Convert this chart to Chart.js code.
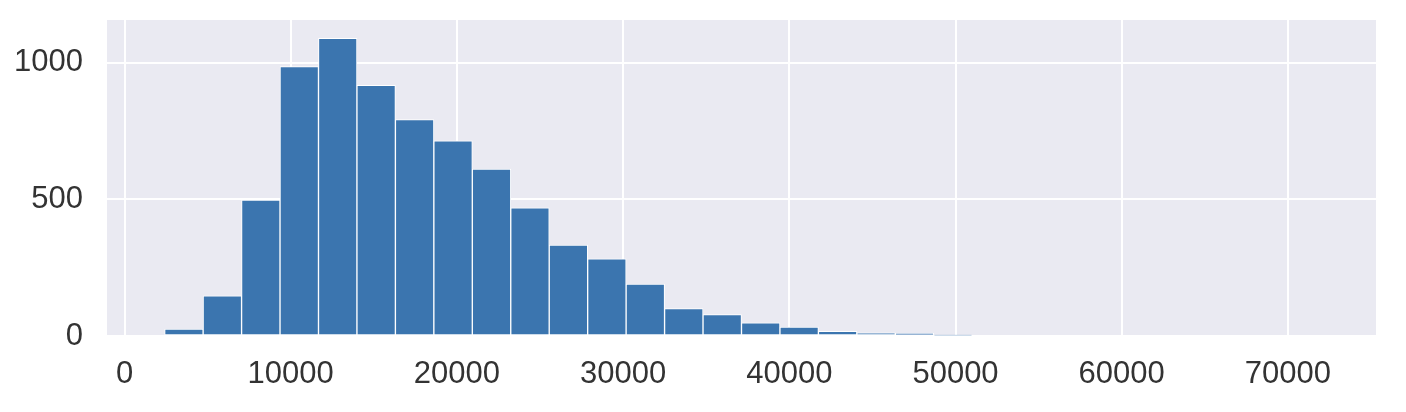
<!DOCTYPE html>
<html lang="en">
<head>
  <meta charset="UTF-8">
  <title>Histogram</title>
  <style>
    html, body { margin: 0; padding: 0; background: #fff; }
    #chart { display: block; }
  </style>
</head>
<body>
  <canvas id="chart" width="1406" height="412"></canvas>

  <script src="https://cdn.jsdelivr.net/npm/chart.js@4/dist/chart.umd.min.js"></script>
  <script>
    // histogram bin edges (30 bins)
    const binEdges = [2417, 4731, 7044, 9358, 11672, 13986, 16299, 18613, 20927, 23240,
                      25554, 27868, 30181, 32495, 34809, 37123, 39436, 41750, 44064, 46378,
                      48691, 51005, 53319, 55632, 57946, 60260, 62573, 64887, 67201, 69515, 71829];
    // counts per bin
    const counts = [25, 147, 498, 986, 1090, 918, 792, 715, 611, 469,
                    333, 283, 190, 100, 78, 48, 33, 17, 12, 10,
                    3, 0, 0, 0, 0, 0, 0, 0, 0, 0];
    const xTicks = [0, 10000, 20000, 30000, 40000, 50000, 60000, 70000];
    const yTicks = [0, 500, 1000];

    const points = counts.map((c, i) => ({ x: (binEdges[i] + binEdges[i + 1]) / 2, y: c }));

    const FONT = { family: '"Liberation Sans", Arial, Helvetica, sans-serif', size: 31 };

    // grey plot background like seaborn darkgrid
    const bgPlugin = {
      id: 'plotBg',
      beforeDraw(chart) {
        const { ctx, chartArea: a } = chart;
        ctx.save();
        ctx.fillStyle = '#eaeaf2';
        ctx.fillRect(a.left, a.top, a.right - a.left, a.bottom - a.top);
        ctx.restore();
      }
    };

    new Chart(document.getElementById('chart'), {
      type: 'bar',
      data: {
        datasets: [{
          data: points,
          backgroundColor: '#3b75af',
          borderColor: '#ffffff',
          borderWidth: 1,
          borderSkipped: false,
          barPercentage: 1,
          categoryPercentage: 1
        }]
      },
      options: {
        responsive: false,
        animation: false,
        devicePixelRatio: 1,
        layout: { padding: { left: 0, right: 30, top: 20, bottom: 0 } },
        plugins: { legend: { display: false }, tooltip: { enabled: false } },
        scales: {
          x: {
            type: 'linear',
            offset: false,
            min: -1053,
            max: 75300,
            afterBuildTicks(s) { s.ticks = xTicks.map(v => ({ value: v })); },
            afterFit(s) { s.height = 76; s.paddingLeft = 0; s.paddingRight = 0; },
            grid: { color: '#ffffff', lineWidth: 2, drawTicks: false, offset: false },
            border: { display: false },
            ticks: {
              maxRotation: 0,
              autoSkip: false,
              padding: 20,
              color: '#333333',
              font: FONT,
              callback: v => String(v)
            }
          },
          y: {
            min: 0,
            max: 1157,
            afterBuildTicks(s) { s.ticks = yTicks.map(v => ({ value: v })); },
            afterFit(s) { s.width = 107; s.paddingTop = 0; s.paddingBottom = 0; },
            grid: { color: '#ffffff', lineWidth: 2, drawTicks: false },
            border: { display: false },
            ticks: {
              padding: 24,
              color: '#333333',
              font: FONT,
              callback: v => String(v)
            }
          }
        }
      },
      plugins: [bgPlugin]
    });
  </script>
</body>
</html>
